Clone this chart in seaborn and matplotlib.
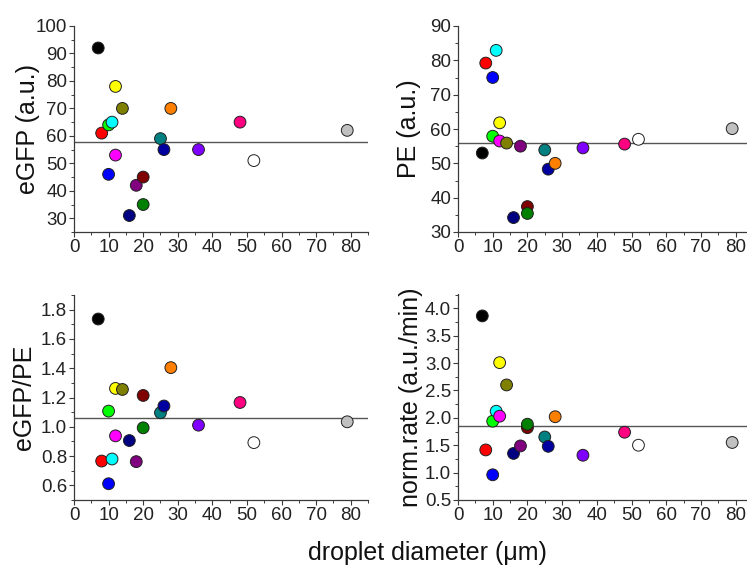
import matplotlib
matplotlib.use("Agg")
import matplotlib.pyplot as plt
from matplotlib.ticker import MultipleLocator
import seaborn as sns
import pandas as pd

# ---- data ----
droplets = ["black", "red", "green", "blue", "cyan", "magenta", "yellow",
            "dark yellow", "navy", "purple", "wine", "olive", "dark cyan",
            "royal", "orange", "violet", "pink", "white", "lt gray"]
colors = ["#000000", "#FF0000", "#00FF00", "#0000FF", "#00FFFF", "#FF00FF",
          "#FFFF00", "#808000", "#000080", "#800080", "#800000", "#008000",
          "#008080", "#0000A0", "#FF8000", "#8000FF", "#FF0080", "#FFFFFF",
          "#C0C0C0"]
diameter = [7, 8, 10, 10, 11, 12, 12, 14, 16, 18, 20, 20, 25, 26, 28, 36, 48, 52, 79]
egfp = [92, 61, 64, 46, 65, 53, 78, 70, 31, 42, 45, 35, 59, 55, 70, 55, 65, 51, 62]
pe = [53, 79.2, 57.9, 75, 82.9, 56.5, 61.8, 55.9, 34.2, 55, 37.4, 35.4, 53.9,
      48.3, 50, 54.5, 55.6, 57, 60.1]
ratio = [1.736, 0.766, 1.107, 0.611, 0.780, 0.938, 1.262, 1.255, 0.906, 0.762,
         1.214, 0.993, 1.096, 1.142, 1.404, 1.011, 1.166, 0.892, 1.034]
rate = [3.86, 1.414, 1.938, 0.96, 2.12, 2.03, 3.007, 2.60, 1.35, 1.487, 1.82,
        1.883, 1.65, 1.48, 2.02, 1.317, 1.737, 1.50, 1.55]
mean_lines = [57.8, 56.0, 1.057, 1.847]
ylabels = ["eGFP (a.u.)", "PE (a.u.)", "eGFP/PE", "norm.rate (a.u./min)"]
ylims = [(25, 100), (30, 90), (0.5, 1.9), (0.5, 4.26)]
ymajor = [10, 10, 0.2, 0.5]
yticks_list = [[30, 40, 50, 60, 70, 80, 90, 100],
               [30, 40, 50, 60, 70, 80, 90],
               [0.6, 0.8, 1.0, 1.2, 1.4, 1.6, 1.8],
               [0.5, 1.0, 1.5, 2.0, 2.5, 3.0, 3.5, 4.0]]
ytick_fmt = ["{:.0f}", "{:.0f}", "{:.1f}", "{:.1f}"]
xlabel = "droplet diameter (\u03bcm)"

df = pd.DataFrame({"droplet": droplets, "diameter": diameter, "egfp": egfp,
                   "pe": pe, "ratio": ratio, "rate": rate})
cols = ["egfp", "pe", "ratio", "rate"]
palette = dict(zip(droplets, colors))

sns.set_style("ticks")
plt.rcParams["font.family"] = ["Liberation Sans", "DejaVu Sans"]

W, H = 747, 568
fig = plt.figure(figsize=(W / 100, H / 100), dpi=100)

# axes boxes in pixels: left, top, right, bottom
boxes = [(74, 26, 368, 232), (458, 26, 753, 232),
         (74, 295, 368, 500), (458, 294, 753, 500)]
label_x = [28, 409, 24, 411]

axis_col = "#3a3a3a"
for i, (l, t, r, b) in enumerate(boxes):
    ax = fig.add_axes([l / W, 1 - b / H, (r - l) / W, (b - t) / H])
    sns.scatterplot(data=df, x="diameter", y=cols[i], hue="droplet",
                    palette=palette, s=72, edgecolor="#202020", linewidth=0.7,
                    legend=False, ax=ax, zorder=3, clip_on=False)
    ax.axhline(mean_lines[i], color="#555555", lw=1.0, zorder=2)
    ax.set_xlim(0, 85)
    ax.set_ylim(*ylims[i])
    ax.xaxis.set_major_locator(MultipleLocator(10))
    ax.xaxis.set_minor_locator(MultipleLocator(5))
    ax.set_yticks(yticks_list[i])
    ax.set_yticklabels([ytick_fmt[i].format(v) for v in yticks_list[i]])
    ax.yaxis.set_minor_locator(MultipleLocator(ymajor[i] / 2))
    ax.set_ylim(*ylims[i])
    for s in ["top", "right"]:
        ax.spines[s].set_visible(False)
    for s in ["left", "bottom"]:
        ax.spines[s].set_color(axis_col)
        ax.spines[s].set_linewidth(0.9)
    ax.tick_params(which="major", direction="out", length=3.5, width=0.8,
                   color=axis_col, labelsize=13.5, labelcolor="#222222", pad=1.5)
    ax.tick_params(which="minor", direction="out", length=2, width=0.7,
                   color=axis_col)
    ax.set_xlabel("")
    ax.set_ylabel(ylabels[i], fontsize=18, color="#111111", va="center")
    ax.yaxis.set_label_coords((label_x[i] - l) / (r - l), 0.5)

fig.text(427 / W, 1 - 553 / H, xlabel, fontsize=18, color="#111111",
         ha="center", va="center")

fig.savefig("out.png", dpi=100)
